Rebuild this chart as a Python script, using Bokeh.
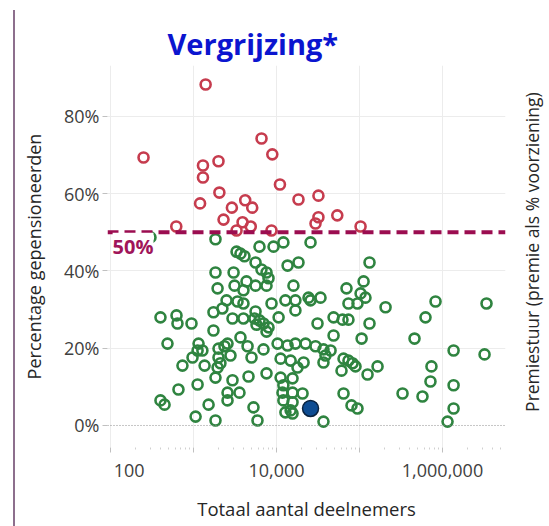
import math
from bokeh.plotting import figure
from bokeh.models import FixedTicker, PrintfTickFormatter, Span, Label, Range1d, Div, Spacer
from bokeh.core.properties import value
from bokeh.layouts import row
from bokeh.embed import file_html
from bokeh.resources import INLINE

FONT = "Open Sans"

# ---- data ----
red_n = [1400, 250, 6600, 8900, 1300, 1300, 2000, 2050, 11000, 1200, 2900, 4200,
         5100, 2300, 3900, 4900, 3300, 8700, 620, 18400, 32000, 32000, 29500, 54000, 103000]
red_pct = [88.3, 69.4, 74.3, 70.2, 67.3, 64.2, 68.4, 60.3, 62.4, 57.5, 56.4, 58.3,
           56.4, 53.3, 52.6, 51.5, 50.5, 50.5, 51.5, 58.5, 59.5, 53.9, 52.3, 54.4, 51.5]

green_n = [303, 1840, 3300, 3680, 4110, 6240, 9210, 12100, 5590, 1840, 3040, 6590,
           7580, 13600, 1950, 3120, 4350, 5590, 7580, 4000, 8010, 16000, 2500, 3390,
           4000, 2230, 1740, 5590, 8710, 12800, 16900, 16900, 400, 624, 641, 946,
           2950, 4000, 5430, 6240, 5740, 6970, 8010, 7580, 10600, 1740, 486, 1150,
           2570, 3680, 4480, 10300, 13600, 16900, 1120, 1280, 2000, 2360, 6970, 973,
           736, 1360, 2000, 2110, 1950, 2790, 5000, 11200, 14800, 1840, 2950, 4600,
           7580, 11200, 12100, 15600, 17900, 659, 1120, 2570, 3580, 11800, 15600, 400,
           448, 1520, 2570, 5280, 12800, 14800, 1060, 1840, 5900, 15600,
           25700, 18400, 132000, 112000, 69700, 103000, 118000, 24300, 25700, 33900,
           73600, 94600, 206000, 824000, 3390000, 48700, 62400, 73600, 624000, 31200,
           132000, 48700, 106000, 460000, 22400, 29500, 36800, 44800, 38900, 1360000,
           3210000, 21200, 36800, 64200, 73600, 82400, 89500, 60700, 165000, 125000,
           736000, 716000, 1360000, 20600, 64200, 330000, 574000, 12100, 15600, 80100,
           94600, 36800, 1360000, 1150000]
green_pct = [48.7, 48.2, 45.0, 44.5, 43.8, 46.3, 46.3, 47.4, 42.2, 39.6, 39.6, 40.4,
             39.6, 41.4, 35.5, 36.2, 37.3, 36.2, 36.2, 35.0, 38.1, 36.2, 32.4, 32.1,
             31.6, 30.3, 29.3, 29.5, 31.6, 32.4, 32.4, 29.8, 28.0, 28.5, 26.4, 26.4,
             27.7, 27.7, 27.7, 27.2, 26.1, 26.4, 25.4, 24.3, 28.0, 24.6, 21.2, 21.2,
             21.2, 22.8, 20.5, 21.2, 20.7, 21.2, 19.4, 19.4, 19.9, 20.5, 19.7, 17.6,
             15.5, 15.5, 17.6, 16.1, 15.0, 18.1, 17.6, 17.3, 16.8, 12.4, 11.7, 12.7,
             13.5, 12.4, 10.4, 12.2, 15.0, 9.3, 10.6, 8.5, 8.5, 8.5, 8.5, 6.5,
             5.4, 5.4, 6.5, 4.7, 3.4, 3.9, 2.3, 1.3, 1.3, 3.1,
             47.4, 42.2, 42.2, 37.3, 35.5, 34.2, 33.1, 33.1, 32.4, 33.1,
             31.6, 31.6, 30.6, 32.1, 31.6, 28.0, 27.4, 27.4, 28.0, 26.4,
             26.4, 23.3, 22.5, 22.5, 21.2, 20.5, 19.7, 19.4, 18.1, 19.4,
             18.4, 16.3, 16.3, 17.3, 16.8, 16.1, 15.3, 14.2, 15.3, 13.2,
             15.3, 11.4, 10.4, 8.3, 8.3, 8.3, 7.5, 6.5, 6.0, 5.2,
             4.4, 1.0, 4.4, 1.0]

highlight_n = [25700]
highlight_pct = [4.4]

x_ticks = [100, 1000, 10000, 100000, 1000000]
x_tick_labels = ["\u00a0" * 8 + "100", "", "10,000", "", "1,000,000"]
x_minor = [k * 10 ** d for d in range(1, 7) for k in range(2, 10)]
y_ticks = [0, 20, 40, 60, 80]
threshold = 50
right_title = ["Premiestuur (premie als % voorziening)"]

# ---- main figure ----
p = figure(frame_width=398, frame_height=382, x_axis_type="log",
           x_range=Range1d(92, 5.74e6), y_range=Range1d(-5.7, 93.2),
           output_backend="svg", toolbar_location=None,
           min_border_left=92, min_border_right=10, min_border_top=65, min_border_bottom=76)
p.outline_line_color = None
p.background_fill_color = "white"
p.border_fill_color = "white"

p.title.text = "Vergrijzing*"
p.title.text_font = FONT
p.title.text_font_size = "29px"
p.title.text_font_style = "bold"
p.title.text_color = "#0B15CF"
p.title.align = "left"
p.title.offset = 60
p.title.standoff = 6

xa = p.xaxis[0]
xa.ticker = FixedTicker(ticks=x_ticks, minor_ticks=x_minor)
xa.major_label_overrides = {t: l for t, l in zip(x_ticks, x_tick_labels)}
xa.axis_label = "Totaal aantal deelnemers"
xa.axis_label_text_font = FONT
xa.axis_label_text_font_size = "18.5px"
xa.axis_label_text_font_style = "normal"
xa.axis_label_text_color = "#262626"
xa.axis_label_standoff = 11
xa.major_label_text_font = FONT
xa.major_label_text_font_size = "18px"
xa.major_label_text_color = "#404040"
xa.major_label_standoff = 5
xa.axis_line_color = None
xa.major_tick_line_color = "#C0C0C0"
xa.minor_tick_line_color = "#D0D0D0"
xa.major_tick_in = 0
xa.major_tick_out = 5
xa.minor_tick_in = 0
xa.minor_tick_out = 2

ya = p.yaxis[0]
ya.ticker = FixedTicker(ticks=y_ticks)
ya.formatter = PrintfTickFormatter(format="%d%%")
ya.axis_label = "Percentage gepensioneerden"
ya.axis_label_text_font = FONT
ya.axis_label_text_font_size = "18px"
ya.axis_label_text_font_style = "normal"
ya.axis_label_text_color = "#262626"
ya.axis_label_standoff = 15
ya.major_label_text_font = FONT
ya.major_label_text_font_size = "18px"
ya.major_label_text_color = "#404040"
ya.major_label_standoff = 3
ya.axis_line_color = None
ya.major_tick_line_color = "#C0C0C0"
ya.major_tick_in = 0
ya.major_tick_out = 5
ya.minor_tick_line_color = None

p.xgrid.grid_line_color = "#ECECEC"
p.ygrid.ticker = FixedTicker(ticks=[20, 40, 60, 80])
p.ygrid.grid_line_color = "#ECECEC"

p.add_layout(Span(location=0, dimension="width", line_color="#8C8C8C",
                  line_dash="1 2", line_width=1))

p.scatter(green_n, green_pct, size=10, fill_color=None, line_color="#2F8440", line_width=2.6)
p.scatter(red_n, red_pct, size=10, fill_color=None, line_color="#C63C4E", line_width=2.6)
p.scatter(highlight_n, highlight_pct, size=16, fill_color="#0E4C92", line_color="#0A2340", line_width=1.5)

p.add_layout(Span(location=threshold, dimension="width", line_color="#9B0D50",
                  line_width=4, line_dash="11 6"))
p.add_layout(Label(x=106, y=46.4, text="50%", text_font=FONT, text_font_size="20px",
                   text_font_style="bold", text_color="#A0155A", text_baseline="middle",
                   text_align="left", background_fill_color="white"))

# ---- narrow side panel holding the right-hand axis title ----
side = figure(width=32, height=526, x_range=Range1d(0, 32), y_range=Range1d(0, 526),
              output_backend="svg", toolbar_location=None,
              min_border=0, min_border_left=0, min_border_right=0,
              min_border_top=0, min_border_bottom=0)
side.axis.visible = False
side.grid.visible = False
side.outline_line_color = None
side.background_fill_color = "white"
side.border_fill_color = "white"
side.text(x=[16], y=[271], text=right_title, angle=math.pi / 2,
          text_font=value(FONT), text_font_size="17.5px", text_color="#262626",
          text_align="center", text_baseline="middle")

vline = Div(text="", width=2, height=516, margin=(10, 0, 0, 0),
            styles={"background-color": "#8D6F8D"})
layout = row(Spacer(width=13, height=10), vline, p, side)

open("out.html", "w").write(file_html(layout, INLINE))
